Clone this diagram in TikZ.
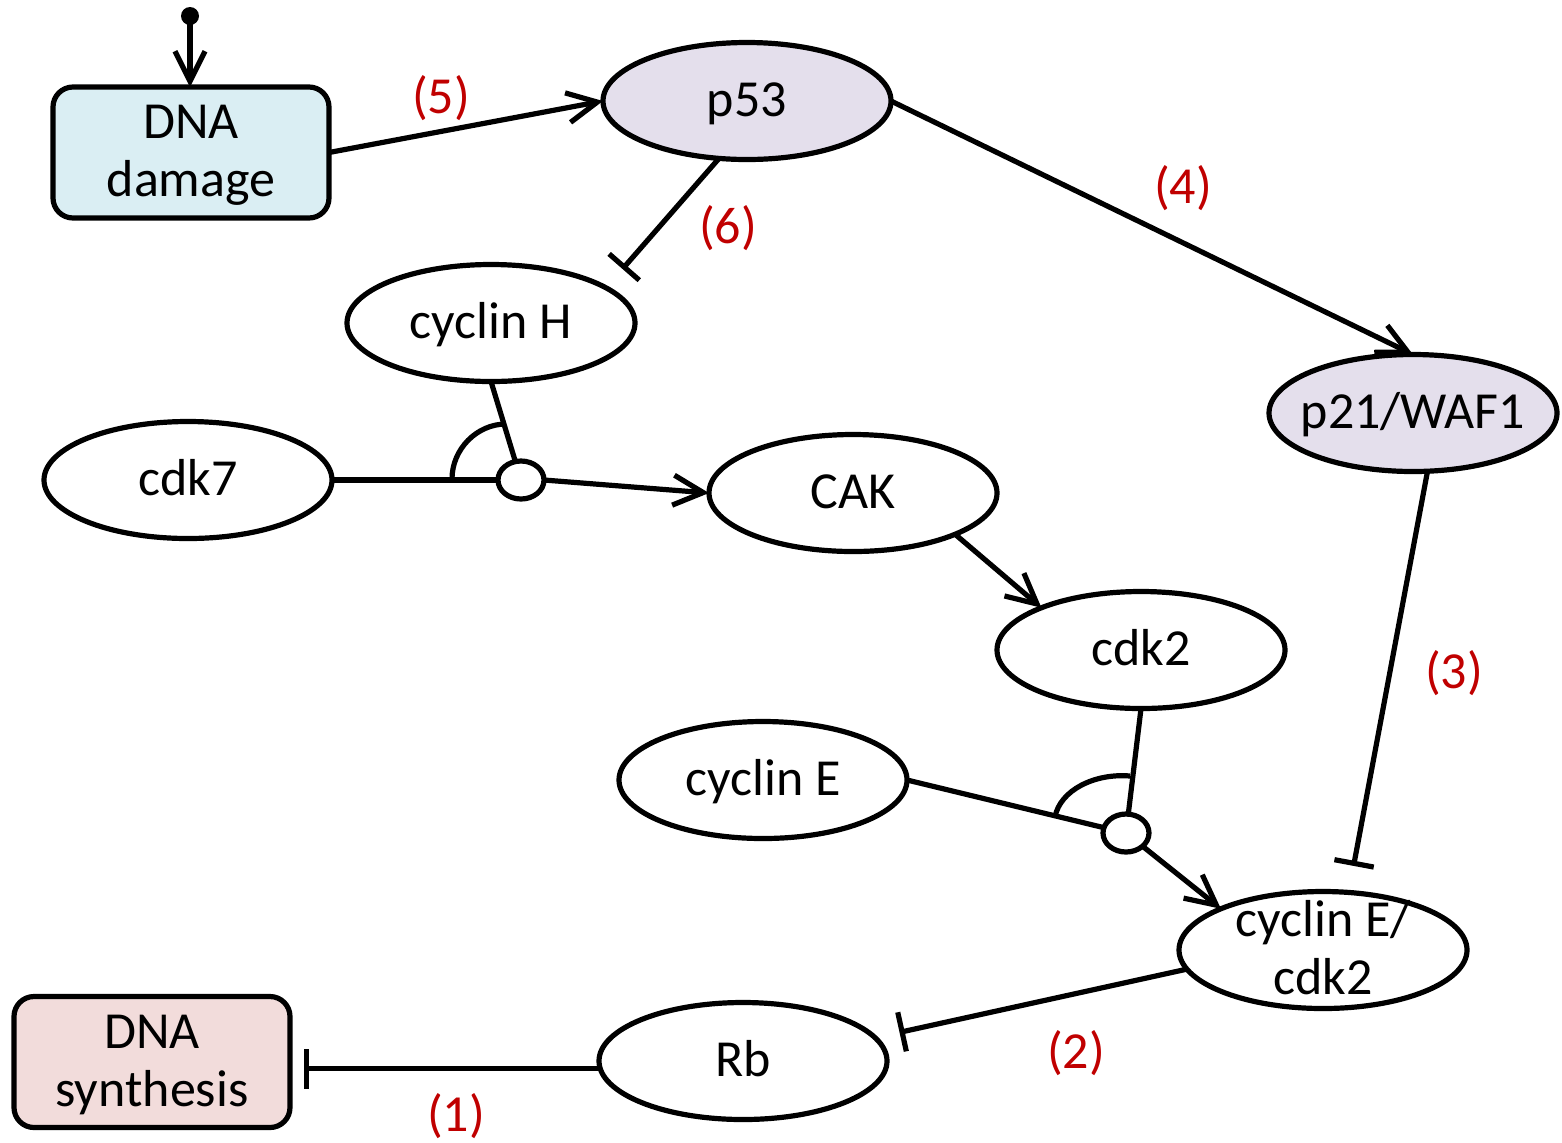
\documentclass[tikz,border=0pt]{standalone}
\usepackage{fontspec}
\setmainfont{Carlito}
\usetikzlibrary{arrows.meta,shapes.geometric}

\definecolor{proteinfill}{HTML}{E4DFEC}
\definecolor{damagefill}{HTML}{DAEEF3}
\definecolor{synthfill}{HTML}{F2DCDB}
\definecolor{stepred}{HTML}{C00000}

% one centred line of text whose baseline sits 7.5pt below the node centre
\newcommand\oneline[1]{\makebox[0pt]{\smash{\raisebox{-7.5pt}{#1}}}}
% two centred lines, 29pt apart
\newcommand\twolines[2]{\makebox[0pt]{\smash{\raisebox{7pt}{#1}}}\makebox[0pt]{\smash{\raisebox{-22pt}{#2}}}}

\tikzset{
  every node/.style={font=\fontsize{26pt}{29pt}\selectfont},
  outlined/.style={draw, line width=2.6pt, inner sep=0pt, outer sep=0pt},
  species/.style={outlined, ellipse, minimum width=144pt, minimum height=58.5pt, fill=white},
  protein/.style={species, fill=proteinfill},
  junction/.style={outlined, ellipse, minimum width=23pt, minimum height=19pt, fill=white},
  event/.style={outlined, rectangle, rounded corners=10pt, minimum width=138pt, minimum height=65.5pt},
  link/.style={line width=2.6pt},
  activates/.style={link, -{Straight Barb[length=15pt,width=15pt,line width=2.6pt]}},
  inhibits/.style={link, -{Bar[width=20pt,line width=2.6pt]}},
  stepnum/.style={text=stepred, inner sep=0pt},
}

\begin{document}
\begin{tikzpicture}[x=0.5pt,y=-0.5pt]
\useasboundingbox (0,0) rectangle (1562,1142);

% boxes for the triggering and blocked processes
\node[event, fill=damagefill] (dmg) at (191,152.5) {\twolines{DNA}{damage}};
\node[event, fill=synthfill]  (syn) at (152,1062)  {\twolines{DNA}{synthesis}};

% proteins and complexes
\node[protein] (p53)  at (747,101)  {\oneline{p53}};
\node[protein] (p21)  at (1413,413) {\oneline{p21/WAF1}};
\node[species] (cycH) at (491,323)  {\oneline{cyclin H}};
\node[species] (cdk7) at (188,480)  {\oneline{cdk7}};
\node[species] (cak)  at (853,493)  {\oneline{CAK}};
\node[species] (cdk2) at (1141,650) {\oneline{cdk2}};
\node[species] (cycE) at (763,780)  {\oneline{cyclin E}};
\node[species] (cycEc) at (1323,950) {\twolines{cyclin E/}{cdk2}};
\node[species] (rb)   at (743,1061) {\oneline{Rb}};

% association points
\node[junction] (j1) at (521,480) {};
\node[junction] (j2) at (1126,833) {};

% external input into DNA damage
\coordinate (src) at (190,16);
\fill (src) circle (4.5pt);
\draw[activates] (src) -- (src |- dmg.north);

% regulatory links
\draw[activates] (dmg.east) -- (p53.west);
\draw[inhibits, shorten >=12.5pt] (p53.-116) -- (cycH.17);
\draw[activates] (p53.east) -- (p21.north);
\draw[inhibits, shorten >=13.5pt] (p21.-76) -- (cycEc.66);
\draw[inhibits, shorten >=12.5pt] (cycEc.188) -- (rb.10);
\draw[inhibits, shorten >=7pt] (rb.183) -- (rb.183 -| syn.east);

% CAK assembly
\draw[link] (cdk7.east) -- (j1.west);
\draw[link] (cycH.south) -- (j1);
\draw[link] (452,479) .. controls (452,449) and (477,424) .. (506,424);
\draw[activates] (j1.east) -- (cak.west);
\draw[activates] (cak.-22) -- (cdk2.157);

% cyclin E/cdk2 assembly
\draw[link] (cdk2.south) -- (j2);
\draw[link] (cycE.east) -- (j2);
\draw[link] (1055,817) .. controls (1060,790) and (1095,773) .. (1130,776);
\draw[activates] (j2) -- (cycEc.158);

% step numbers
\node[stepnum] (n1) at (456,1116) {(1)};
\node[stepnum] (n2) at (1076,1053) {(2)};
\node[stepnum] (n3) at (1454,673) {(3)};
\node[stepnum] (n4) at (1183,188) {(4)};
\node[stepnum] (n5) at (441,98) {(5)};
\node[stepnum] (n6) at (728,228) {(6)};
\end{tikzpicture}
\end{document}
